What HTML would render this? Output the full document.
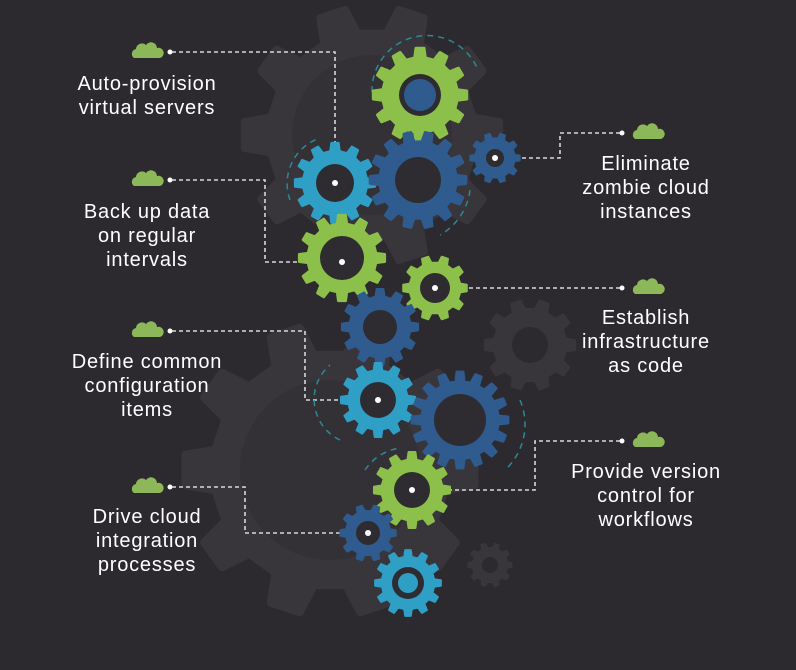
<!DOCTYPE html><html><head><meta charset="utf-8"><style>
html,body{margin:0;padding:0;background:#2c2a2f;}
svg{display:block}
text{font-family:"Liberation Sans",sans-serif;font-size:20px;fill:#fff;text-anchor:middle;letter-spacing:0.8px}
</style></head><body>
<svg id="s" width="796" height="670" viewBox="0 0 796 670" xmlns="http://www.w3.org/2000/svg">
<rect width="796" height="670" fill="#2c2a2f"/>
<g id="bg"></g>
<g id="lines" fill="none" stroke="#d8d8d8" stroke-width="1.6" stroke-dasharray="4 3">
<path d="M172 52H335V183"/>
<path d="M172 180H265V262H342"/>
<path d="M172 331H305V400H378"/>
<path d="M172 487H245V533H368"/>
<path d="M620 133H560V158H495"/>
<path d="M620 288H435"/>
<path d="M620 441H535V490H412"/>
</g>
<g id="arcs" fill="none" stroke="#2a8a95" stroke-width="1.5" stroke-dasharray="6 5">
<path d="M372 92A55 55 0 0 1 478 70"/>
<path d="M290 200A48 48 0 0 1 320 138"/>
<path d="M470 190A60 60 0 0 1 440 235"/>
<path d="M340 440A45 45 0 0 1 330 365"/>
<path d="M520 400A62 62 0 0 1 505 470"/>
<path d="M365 470A50 50 0 0 1 400 448"/>
</g>
<g id="fg"></g>
<g id="dots" fill="#fff">
<circle cx="170" cy="52" r="2.5"/><circle cx="335" cy="183" r="3"/>
<circle cx="170" cy="180" r="2.5"/><circle cx="342" cy="262" r="3"/>
<circle cx="170" cy="331" r="2.5"/><circle cx="378" cy="400" r="3"/>
<circle cx="170" cy="487" r="2.5"/><circle cx="368" cy="533" r="3"/>
<circle cx="622" cy="133" r="2.5"/><circle cx="495" cy="158" r="3"/>
<circle cx="622" cy="288" r="2.5"/><circle cx="435" cy="288" r="3"/>
<circle cx="622" cy="441" r="2.5"/><circle cx="412" cy="490" r="3"/>
</g>
<g id="clouds"></g>
<text x="147" y="90">Auto-provision</text><text x="147" y="114">virtual servers</text>
<text x="147" y="218">Back up data</text><text x="147" y="242">on regular</text><text x="147" y="266">intervals</text>
<text x="147" y="368">Define common</text><text x="147" y="392">configuration</text><text x="147" y="416">items</text>
<text x="147" y="523">Drive cloud</text><text x="147" y="547">integration</text><text x="147" y="571">processes</text>
<text x="646" y="170">Eliminate</text><text x="646" y="194">zombie cloud</text><text x="646" y="218">instances</text>
<text x="646" y="324">Establish</text><text x="646" y="348">infrastructure</text><text x="646" y="372">as code</text>
<text x="646" y="478">Provide version</text><text x="646" y="502">control for</text><text x="646" y="526">workflows</text>
</svg>
<script>
var NS="http://www.w3.org/2000/svg";
function gear(g,cx,cy,R,n,col,hole,holeCol,inner,innerCol){
 var r=R*0.8,d="";
 for(var i=0;i<n;i++){
  var a=i*2*Math.PI/n,w=Math.PI/n;
  var pts=[[r,a-w*0.55],[R,a-w*0.33],[R,a+w*0.33],[r,a+w*0.55],[r,a+w*1.45]];
  pts.forEach(function(p,j){var x=cx+p[0]*Math.cos(p[1]),y=cy+p[0]*Math.sin(p[1]);d+=(i==0&&j==0?"M":"L")+x.toFixed(1)+" "+y.toFixed(1);});
 }
 d+="Z";
 var p=document.createElementNS(NS,"path");p.setAttribute("d",d);p.setAttribute("fill",col);p.setAttribute("stroke",col);p.setAttribute("stroke-linejoin","round");p.setAttribute("stroke-width",R*0.06);g.appendChild(p);
 if(hole){var c=document.createElementNS(NS,"circle");c.setAttribute("cx",cx);c.setAttribute("cy",cy);c.setAttribute("r",hole);c.setAttribute("fill",holeCol);g.appendChild(c);}
 if(inner){var c2=document.createElementNS(NS,"circle");c2.setAttribute("cx",cx);c2.setAttribute("cy",cy);c2.setAttribute("r",inner);c2.setAttribute("fill",innerCol);g.appendChild(c2);}
}
var bg=document.getElementById("bg"),fg=document.getElementById("fg");
var B="#38363b",H="#2c2a2f";
gear(bg,372,135,128,10,B,80,"#333136");
gear(bg,330,470,145,10,B,90,"#333136");
gear(bg,530,345,45,10,B,18,H);
gear(bg,490,565,22,10,B,8,H);
var G="#8dc04a",C="#2f9fc6",D="#2f5b8f",K="#2e2c31";
gear(fg,420,95,47,12,G,21,K,16,D);
gear(fg,495,158,25,10,D,9,K);
gear(fg,335,183,40,12,C,19,K);
gear(fg,418,180,48,14,D,23,K);
gear(fg,342,258,43,12,G,22,K);
gear(fg,435,288,32,10,G,15,K);
gear(fg,380,327,38,12,D,17,K);
gear(fg,378,400,37,12,C,18,K);
gear(fg,460,420,48,16,D,26,K);
gear(fg,412,490,38,12,G,18,K);
gear(fg,368,533,28,10,D,12,K);
gear(fg,408,583,33,12,C,16,K,10,C);
var cl=document.getElementById("clouds");
[[147,52],[147,180],[147,331],[147,487],[648,133],[648,288],[648,441]].forEach(function(p){
 var x=p[0],y=p[1];
 var d="M"+(x-13)+" "+(y+6)+"a5 5 0 0 1 2-9a6 6 0 0 1 10-4a6 6 0 0 1 11 3a4.5 4.5 0 0 1 3 10z";
 var e=document.createElementNS(NS,"path");e.setAttribute("d",d);e.setAttribute("fill","#8db85a");cl.appendChild(e);
});
</script>
</body></html>
